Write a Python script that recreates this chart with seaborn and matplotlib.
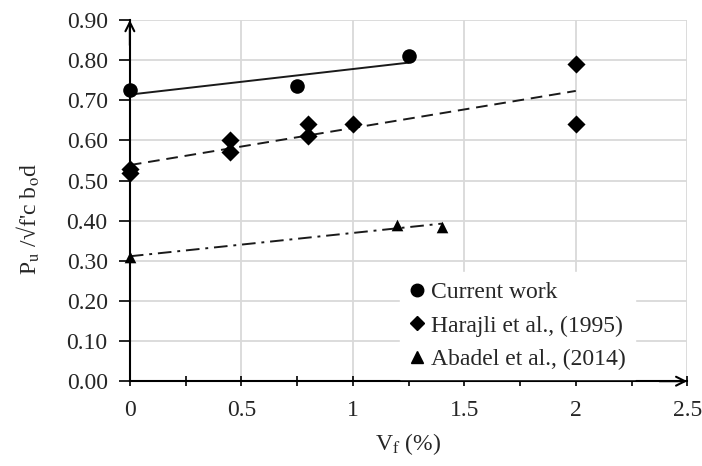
import pandas as pd
import matplotlib
matplotlib.use("Agg")
import matplotlib.pyplot as plt
import seaborn as sns
from matplotlib.lines import Line2D
from matplotlib.ticker import MultipleLocator, FormatStrFormatter

# --- data ---
current_vf = [0.0, 0.75, 1.25]
current_ratio = [0.725, 0.735, 0.81]

harajli_vf = [0.0, 0.0, 0.45, 0.45, 0.8, 0.8, 1.0, 2.0, 2.0]
harajli_ratio = [0.52, 0.53, 0.57, 0.60, 0.61, 0.64, 0.64, 0.79, 0.64]

abadel_vf = [0.0, 1.2, 1.4]
abadel_ratio = [0.31, 0.39, 0.385]

labels = ["Current work", "Harajli et al., (1995)", "Abadel et al., (2014)"]
markers = ["o", "D", "^"]
marker_sizes = [110, 85, 70]
line_styles = ["-", (0, (6, 3.5)), (0, (7, 3, 1.5, 3))]

sns.set_style("white")
plt.rcParams["font.family"] = ["Liberation Serif", "DejaVu Serif"]
plt.rcParams["mathtext.fontset"] = "stix"

fig = plt.figure(figsize=(7.02, 4.66), dpi=100)
ax = fig.add_axes([0.185, 0.182, 0.794, 0.775])

series = [(current_vf, current_ratio), (harajli_vf, harajli_ratio), (abadel_vf, abadel_ratio)]
for (vf, ratio), lab, mk, ms, ls in zip(series, labels, markers, marker_sizes, line_styles):
    df = pd.DataFrame({"vf": vf, "ratio": ratio})
    sns.scatterplot(data=df, x="vf", y="ratio", marker=mk, s=ms, color="black",
                    edgecolor="black", linewidth=0, ax=ax, zorder=4, clip_on=False)
    # Excel-style linear trendline through each series
    sns.regplot(data=df, x="vf", y="ratio", scatter=False, ci=None, truncate=True,
                color="#1a1a1a", line_kws={"lw": 1.4, "ls": ls, "zorder": 3}, ax=ax)

ax.set_xlim(0, 2.5)
ax.set_ylim(0, 0.9)
ax.xaxis.set_major_locator(MultipleLocator(0.5))
ax.xaxis.set_minor_locator(MultipleLocator(0.25))
ax.yaxis.set_major_locator(MultipleLocator(0.1))
ax.yaxis.set_major_formatter(FormatStrFormatter("%.2f"))
ax.xaxis.set_major_formatter(FormatStrFormatter("%g"))

ax.grid(True, which="major", color="#d9d9d9", lw=1.3)
ax.set_axisbelow(True)
for s in ["top", "right"]:
    ax.spines[s].set_visible(False)
for s in ["left", "bottom"]:
    ax.spines[s].set_color("black")
    ax.spines[s].set_linewidth(1.5)
    ax.spines[s].set_zorder(5)

ax.tick_params(axis="y", which="major", direction="out", length=8, width=1.2,
               color="black", labelsize=17, left=True, pad=8)
ax.tick_params(axis="x", which="both", direction="inout", length=7, width=1.2,
               color="black", labelsize=17, bottom=True, pad=10)

# arrowheads at the axis ends
arrow = dict(arrowstyle="->", color="black", lw=1.5, mutation_scale=16, shrinkA=0, shrinkB=0)
ax.annotate("", xy=(1.0, 0), xytext=(0.95, 0), xycoords="axes fraction",
            arrowprops=arrow, annotation_clip=False)
ax.annotate("", xy=(0, 1.0), xytext=(0, 0.93), xycoords="axes fraction",
            arrowprops=arrow, annotation_clip=False)

ax.set_xlabel("V$_{\\rm f}$ (%)", fontsize=17, labelpad=7)
ax.set_ylabel("P$_{\\rm u}$ /√f'c b$_{\\rm o}$d", fontsize=17)
ax.yaxis.set_label_coords(-0.157, 0.45)

handles = [Line2D([], [], marker=mk, ls="none", color="black", markersize=9 if mk != "D" else 7.5)
           for mk in markers]
leg = ax.legend(handles, labels, loc="lower left", bbox_to_anchor=(0.485, 0.005),
                fontsize=17, frameon=True, fancybox=False, framealpha=1,
                edgecolor="white", handlelength=0.6, handletextpad=0.3,
                labelspacing=0.5, borderpad=0.4, borderaxespad=0)
leg.set_zorder(6)

fig.savefig("out.png", dpi=100)
